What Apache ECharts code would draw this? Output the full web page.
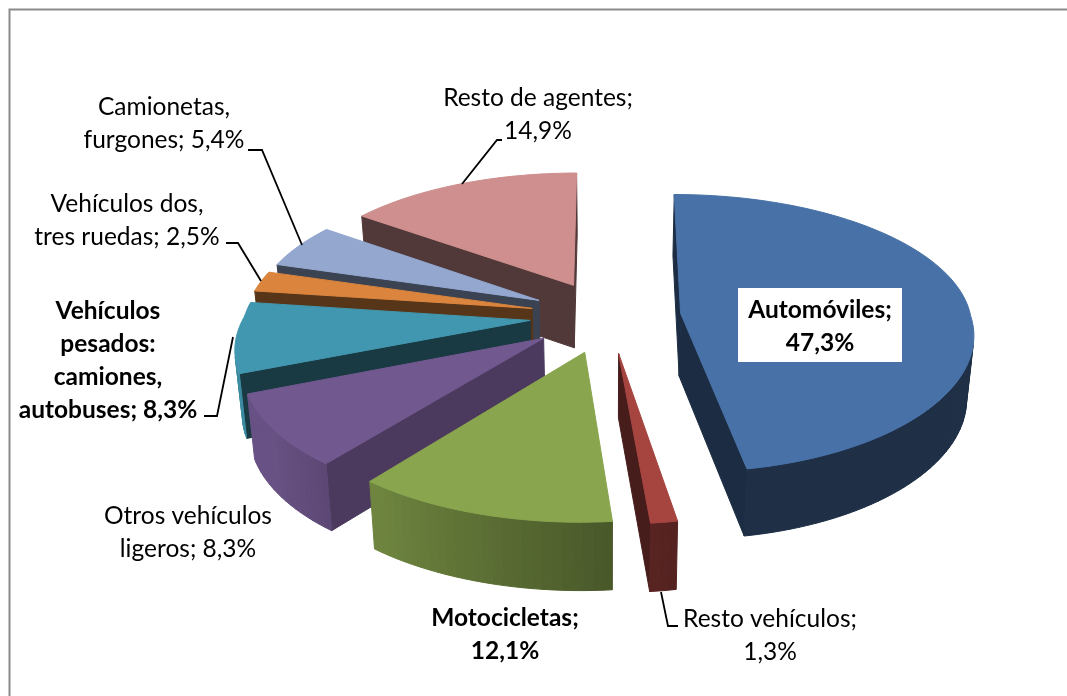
<!DOCTYPE html>
<html>
<head>
<meta charset="utf-8">
<style>
html, body { margin: 0; padding: 0; background: #fff; }
#main { width: 1067px; height: 696px; }
</style>
<script src="https://cdn.jsdelivr.net/npm/echarts@6/dist/echarts.min.js"></script>
</head>
<body>
<div id="main"></div>
<script>
// datos, en sentido horario desde arriba
var categories = ['Automóviles', 'Resto vehículos', 'Motocicletas', 'Otros vehículos ligeros',
    'Vehículos pesados: camiones, autobuses', 'Vehículos dos, tres ruedas', 'Camionetas, furgones', 'Resto de agentes'];
var values = [47.3, 1.3, 12.1, 8.3, 8.3, 2.5, 5.4, 14.9];
var labelTexts = ['Automóviles;\n{v}', 'Resto vehículos;\n{v}', 'Motocicletas;\n{v}', 'Otros vehículos\nligeros; {v}',
    'Vehículos\npesados:\ncamiones,\nautobuses; {v}', 'Vehículos dos,\ntres ruedas; {v}', 'Camionetas,\nfurgones; {v}', 'Resto de agentes;\n{v}'];

// estilo
var topColors = ['#4771A7', '#A64440', '#89A54E', '#71588F', '#4197AF', '#DA843D', '#93A7CF', '#CE8F8E'];
var wallShades = [0.4, 0.43, 0.4, 0.66, 0.38, 0.4, 0.4, 0.4];
var explodes = [73, 78, 78, 78, 78, 78, 78, 78];
var radii = [290, 286, 286, 286, 286, 286, 286, 286];
var labelBold = [true, false, true, false, true, false, false, false];
var labelPos = [[820, 327], [770, 636], [505, 635], [188, 533], [108, 361], [127, 221], [164, 124], [538, 115]];
var leaders = [
    [[661, 592], [668, 626], [678, 626]],
    [[233, 337], [217, 416], [204, 416]],
    [[261, 281], [238, 243], [226, 243]],
    [[302, 245], [262, 150], [248, 150]],
    [[462, 184], [497, 140], [502, 140]]
];

var cx = 608, cy = 316;
var total = values.reduce(function (a, b) { return a + b; }, 0);

// inicio acumulado de cada sector
var starts = [];
values.reduce(function (acc, v, i) { starts[i] = acc; return acc + v; }, 0);

function proj(u, v, down) {
    // la perspectiva no es igual delante y detrás, ajustada a ojo
    var s = v < 0 ? 1 + 0.0003 * v : 1 + (u > 0 ? 0.00048 : 0.00065) * v;
    var ys = v < 0 ? 1 + 0.0003 * v : 1 + 0.00065 * v;
    var x = cx + u * s;
    var y = cy + v * ys * (v < 0 ? 0.45 : 0.463);
    if (down) {
        x = cx + (x - cx) * 0.98;
        y += 40 + 23 * ys;
    }
    return [x, y];
}

function shade(hex, f) {
    var n = parseInt(hex.slice(1), 16);
    var r = Math.round((n >> 16) * f), g = Math.round(((n >> 8) & 255) * f), b = Math.round((n & 255) * f);
    return 'rgb(' + r + ',' + g + ',' + b + ')';
}

// las caras que miran atrás no se dibujan
function facing(q) {
    var area = 0;
    for (var i = 0; i < q.length; i++) {
        var p = q[i], n = q[(i + 1) % q.length];
        area += p[0] * n[1] - n[0] * p[1];
    }
    return area < 0;
}

function face(points, color) {
    return {
        type: 'polygon',
        shape: { points: points },
        style: { fill: color, stroke: color, lineWidth: 1 }
    };
}

function renderSlice(params, api) {
    var i = api.value(0);
    var a0 = api.value(1) / total * 2 * Math.PI;
    var a1 = (api.value(1) + api.value(2)) / total * 2 * Math.PI;
    var mid = (a0 + a1) / 2;
    var ax = explodes[i] * Math.sin(mid), ay = -explodes[i] * Math.cos(mid);
    var radius = radii[i];
    var color = topColors[i];
    var wall = shade(color, wallShades[i]);
    var children = [];

    var rim = [];
    var steps = Math.max(2, Math.ceil((a1 - a0) / 0.03));
    for (var k = 0; k <= steps; k++) {
        var a = a0 + (a1 - a0) * k / steps;
        rim.push({ a: a, u: ax + radius * Math.sin(a), v: ay - radius * Math.cos(a) });
    }

    function wallQuad(p, q) {
        return [proj(p.u, p.v), proj(q.u, q.v), proj(q.u, q.v, true), proj(p.u, p.v, true)];
    }
    var apex = { u: ax, v: ay };
    var q0 = wallQuad(apex, rim[0]);
    if (facing(q0)) children.push(face(q0, wall));
    var q1 = wallQuad(rim[steps], apex);
    if (facing(q1)) children.push(face(q1, wall));

    // pared exterior, más clara hacia la izquierda
    for (k = 0; k < steps; k++) {
        var q = wallQuad(rim[k], rim[k + 1]);
        if (facing(q)) {
            var deg = (rim[k].a + rim[k + 1].a) / 2 * 180 / Math.PI;
            var f = deg < 170 ? 0.42 : Math.min(0.92, 0.5 + (deg - 170) * 0.0065);
            children.push(face(q, shade(color, f)));
        }
    }

    var top = [proj(apex.u, apex.v)];
    rim.forEach(function (r) { top.push(proj(r.u, r.v)); });
    children.push(face(top, color));

    return { type: 'group', children: children };
}

// de atrás hacia delante
var drawOrder = values.map(function (v, i) { return [i, starts[i], v]; }).reverse();

var graphics = [{
    type: 'polyline',
    z: 10,
    shape: { points: [[9.5, 696], [9.5, 9.5], [1067, 9.5]] },
    style: { stroke: '#8a8a8a', lineWidth: 2, fill: null }
}, {
    type: 'rect',
    z: 10,
    shape: { x: 738, y: 288, width: 164, height: 74 },
    style: { fill: '#fff' }
}];

leaders.forEach(function (l) {
    graphics.push({
        type: 'polyline',
        z: 11,
        shape: { points: l },
        style: { stroke: '#000', lineWidth: 1.8, fill: null }
    });
});

labelTexts.forEach(function (t, i) {
    graphics.push({
        type: 'text',
        z: 12,
        x: labelPos[i][0],
        y: labelPos[i][1],
        style: {
            text: t.replace('{v}', values[i].toFixed(1).replace('.', ',') + '%'),
            font: (labelBold[i] ? 'bold ' : '') + '24.5px Lato',
            lineHeight: 33,
            fill: '#000',
            align: 'center',
            verticalAlign: 'middle'
        }
    });
});

var myChart = echarts.init(document.getElementById('main'));
myChart.setOption({
    animation: false,
    backgroundColor: '#fff',
    tooltip: { show: false },
    graphic: graphics,
    series: [{
        type: 'custom',
        coordinateSystem: 'none',
        silent: true,
        renderItem: renderSlice,
        data: drawOrder
    }]
});
</script>
</body>
</html>
